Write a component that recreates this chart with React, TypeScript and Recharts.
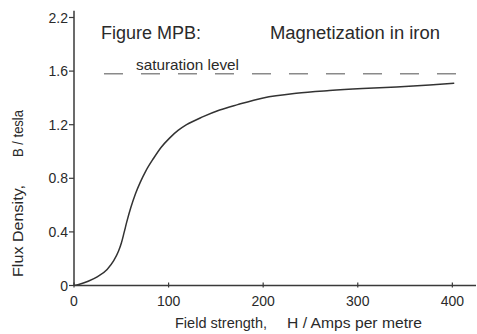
import React from "react";
import {
  LineChart,
  Line,
  XAxis,
  YAxis,
  ReferenceLine,
} from "recharts";

// Field strength H (A/m)
const fieldH = [0, 5, 15, 25, 35, 42, 47, 50, 53, 56, 60, 65, 70, 76, 84, 92, 101, 110, 119, 136.5, 154, 173, 200, 235, 270, 305, 341, 376, 402];
// Flux density B (T)
const fluxB = [0, 0.008, 0.032, 0.066, 0.12, 0.185, 0.255, 0.315, 0.396, 0.48, 0.58, 0.685, 0.77, 0.856, 0.948, 1.03, 1.1, 1.157, 1.2, 1.26, 1.31, 1.35, 1.4, 1.435, 1.455, 1.47, 1.482, 1.497, 1.51];

const xTicks = [0, 100, 200, 300, 400];
const yTicks = [0, 0.4, 0.8, 1.2, 1.6, 2.0];
const yTickLabels = ["0", "0.4", "0.8", "1.2", "1.6", "2.2"];

const saturationB = 1.58;
const saturationStart = 31.7;
const saturationEnd = 404.4;

const data = fieldH.map((h, i) => ({ h, b: fluxB[i] }));

const FONT = "'Liberation Sans', Arial, Helvetica, sans-serif";
const AXIS = "#3a3a3a";
const TEXT = "#2a2a2a";

const XTick = (props: any) => {
  const { x, y, payload } = props;
  return (
    <g>
      <line x1={x} y1={y - 3} x2={x} y2={y + 2} stroke={AXIS} strokeWidth={1.2} />
      <text x={x} y={y + 20} textAnchor="middle" fontSize={14} fill={TEXT} fontFamily={FONT}>
        {payload.value}
      </text>
    </g>
  );
};

const YTick = (props: any) => {
  const { x, y, payload } = props;
  const idx = yTicks.indexOf(payload.value);
  const label = idx >= 0 ? yTickLabels[idx] : String(payload.value);
  return (
    <g>
      <line x1={x} y1={y} x2={x - 5} y2={y} stroke={AXIS} strokeWidth={1.2} />
      <text x={x - 6} y={y + 5} textAnchor="end" fontSize={14} fill={TEXT} fontFamily={FONT}>
        {label}
      </text>
    </g>
  );
};

export default function App() {
  return (
    <div style={{ position: "absolute", left: 0, top: 0, width: 477, height: 334, background: "#fff" }}>
      <LineChart
        width={477}
        height={334}
        data={data}
        margin={{ top: 10.8, right: 1, left: 14, bottom: 18.5 }}
      >
        <XAxis
          dataKey="h"
          type="number"
          domain={[0, 425]}
          ticks={xTicks}
          tickSize={0}
          tickMargin={0}
          height={30}
          tick={<XTick />}
          axisLine={{ stroke: AXIS, strokeWidth: 1.5 }}
          tickLine={false}
          allowDataOverflow
        />
        <YAxis
          type="number"
          domain={[0, 2.05]}
          ticks={yTicks}
          tickSize={0}
          tickMargin={0}
          width={60}
          tick={<YTick />}
          axisLine={{ stroke: AXIS, strokeWidth: 1.5 }}
          tickLine={false}
          allowDataOverflow
        />
        <ReferenceLine
          segment={[
            { x: saturationStart, y: saturationB },
            { x: saturationEnd, y: saturationB },
          ]}
          stroke="#8a8a8a"
          strokeWidth={1.5}
          strokeDasharray="19 18"
          ifOverflow="visible"
        />
        <Line
          type="monotone"
          dataKey="b"
          stroke="#333"
          strokeWidth={1.5}
          dot={false}
          isAnimationActive={false}
        />
      </LineChart>
      <svg
        width={477}
        height={334}
        style={{ position: "absolute", left: 0, top: 0, pointerEvents: "none" }}
      >
        <text x={101} y={39} fontSize={18} fill={TEXT} fontFamily={FONT} textLength={100} lengthAdjust="spacingAndGlyphs">
          Figure MPB:
        </text>
        <text x={270} y={39} fontSize={18} fill={TEXT} fontFamily={FONT} textLength={170} lengthAdjust="spacingAndGlyphs">
          Magnetization in iron
        </text>
        <text x={136} y={70} fontSize={15} fill={TEXT} fontFamily={FONT} textLength={103} lengthAdjust="spacingAndGlyphs">
          saturation level
        </text>
        <text x={175} y={328} fontSize={14} fill={TEXT} fontFamily={FONT} textLength={92} lengthAdjust="spacingAndGlyphs">
          Field strength,
        </text>
        <text x={287} y={328} fontSize={14} fill={TEXT} fontFamily={FONT} textLength={135} lengthAdjust="spacingAndGlyphs">
          H / Amps per metre
        </text>
        <text
          transform="translate(23, 277) rotate(-90)"
          fontSize={14}
          fill={TEXT}
          fontFamily={FONT}
          textLength={92}
          lengthAdjust="spacingAndGlyphs"
        >
          Flux Density,
        </text>
        <text
          transform="translate(23, 157) rotate(-90)"
          fontSize={14}
          fill={TEXT}
          fontFamily={FONT}
          textLength={47}
          lengthAdjust="spacingAndGlyphs"
        >
          B / tesla
        </text>
      </svg>
    </div>
  );
}
